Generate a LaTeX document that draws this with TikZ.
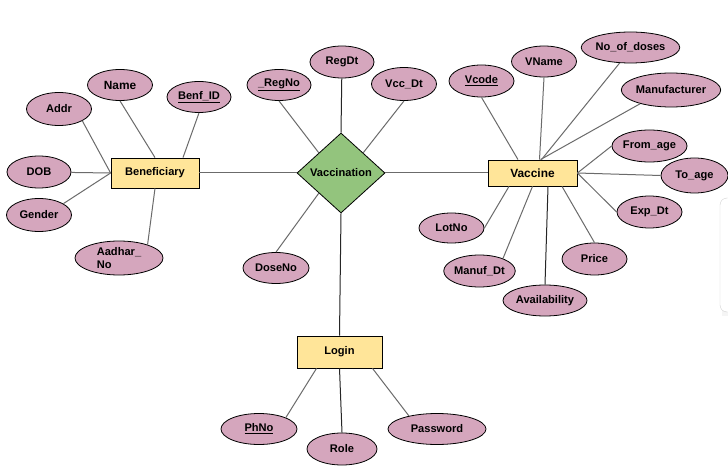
\documentclass[tikz,border=0pt]{standalone}
\usepackage{fontspec}
\setmainfont{Liberation Sans}
\usetikzlibrary{shapes.geometric}
\definecolor{attrpink}{HTML}{D5A6BD}
\definecolor{entyellow}{HTML}{FFE599}
\definecolor{relgreen}{HTML}{93C47D}
\definecolor{linkgray}{HTML}{6B6B6B}

\begin{document}
\begin{tikzpicture}[x=1pt, y=-1pt, font=\bfseries\fontsize{11.1}{12.8}\selectfont,
    attr/.style={draw, ellipse, fill=attrpink, line width=.8pt, inner sep=0pt, minimum width=65pt, minimum height=32pt},
    ent/.style={draw, fill=entyellow, line width=.8pt, inner sep=0pt, minimum width=88pt, minimum height=30pt},
    rel/.style={draw, diamond, fill=relgreen, line width=.8pt, inner sep=0pt, minimum width=88pt, minimum height=80pt},
    big/.style={font=\bfseries\fontsize{11.9}{13.5}\selectfont},
    link/.style={linkgray, line width=1pt},
    darklink/.style={black!85, line width=1pt}]
    \useasboundingbox (0,0) rectangle (728,473);
    \fill[white] (0,0) rectangle (728,473);
    \fill[black!4] (722,201) rectangle (745,316);
    \draw[black!18, fill=white, rounded corners=7pt] (720,198) rectangle (745,312);

    \node[ent] (benef) at (155,173) {Beneficiary};
    \node[rel] (vacc) at (341,173) {Vaccination};
    \node[ent, big, minimum width=89pt, minimum height=26pt] (vaccine) at (532.5,173) {Vaccine};
    \node[ent, minimum width=85pt, minimum height=32pt] (login) at (339.5,352) {Login};

    \node[attr, minimum height=33pt] (addr) at (59,109) {Addr};
    \node[attr, big, minimum height=31pt] (name) at (120,85) {Name};
    \node[attr, minimum width=64pt, minimum height=31pt] (benfid) at (199,97) {\underline{Benf\_ID}};
    \node[attr, minimum width=64pt] (dob) at (39,172) {DOB};
    \node[attr, minimum height=33pt] (gender) at (39,215) {Gender};
    \node[attr, minimum width=88pt, minimum height=34pt, align=left] (aadhar) at (119,258) {Aadhar\_\\No};

    \node[attr, minimum width=64pt, minimum height=31pt] (regno) at (279,85) {\underline{\_RegNo}};
    \node[attr, minimum width=64pt] (regdt) at (342,62) {RegDt};
    \node[attr, minimum height=33pt] (vccdt) at (404,84) {Vcc\_Dt};
    \node[attr, minimum width=66pt, minimum height=31pt] (doseno) at (276,268) {DoseNo};

    \node[attr] (vcode) at (481.5,81) {\underline{Vcode}};
    \node[attr, minimum height=31pt] (vname) at (544,61.5) {VName};
    \node[attr, minimum width=89pt, minimum height=31pt] (doses) at (630.5,47.5) {No\_of\_doses};
    \node[attr, minimum width=98pt, minimum height=34pt] (manuf) at (671,90) {Manufacturer};
    \node[attr] (fromage) at (649.5,146) {From\_age};
    \node[attr, minimum width=67pt, minimum height=35pt] (toage) at (694.5,175.5) {To\_age};
    \node[attr] (expdt) at (649.5,212) {Exp\_Dt};
    \node[attr] (price) at (594.5,259) {Price};
    \node[attr, minimum width=84pt, minimum height=31pt] (avail) at (545,300.5) {Availability};
    \node[attr] (manufdt) at (479.5,271) {Manuf\_Dt};
    \node[attr, minimum height=30pt] (lotno) at (451.5,228) {LotNo};

    \node[attr, minimum width=76pt, minimum height=31pt] (phno) at (259,429) {\underline{PhNo}};
    \node[attr, minimum width=70pt] (role) at (342,449) {Role};
    \node[attr, minimum width=98pt, minimum height=31pt] (password) at (437,429) {Password};

    \draw[link] (addr.-27) -- (benef.west);
    \draw[link] (name.south) -- (benef.north);
    \draw[link] (benfid.south) -- ([xshift=28pt]benef.north);
    \draw[link] (dob) -- (benef.west);
    \draw[link] (gender.25) -- (benef.west);
    \draw[link] (aadhar.25) -- (benef.south);
    \draw[link] (benef) -- (vacc);

    \draw[link] (regno.south) -- (vacc.north west);
    \draw[darklink] (regdt) -- (vacc.north);
    \draw[link] (vccdt.south) -- (vacc.north east);
    \draw[link] (doseno.north) -- (vacc.south west);
    \draw[darklink] (vacc.south) -- (login.north);
    \draw[link] (vacc) -- (vaccine);

    \draw[link] (vcode.south) -- ([xshift=-14.5pt]vaccine.north);
    \draw[link] (vname.south) -- ([xshift=7pt]vaccine.north);
    \draw[link] (doses.-125) -- ([xshift=9pt]vaccine.north);
    \draw[link] (manuf.-156) -- ([xshift=8pt]vaccine.north);
    \draw[link] (fromage.west) -- (vaccine.east);
    \draw[link] (toage.west) -- (vaccine.east);
    \draw[link] (expdt.west) -- (vaccine.east);
    \draw[link] (price.north) -- ([xshift=29.5pt]vaccine.south);
    \draw[darklink] (avail.north) -- ([xshift=15.5pt]vaccine.south);
    \draw[link] (manufdt.28) -- (vaccine.south);
    \draw[link] (lotno.east) -- ([xshift=-23.5pt]vaccine.south);

    \draw[link] (phno.23) -- ([xshift=-23pt]login.south);
    \draw[darklink] (role.north) -- (login.south);
    \draw[link] (password.155) -- ([xshift=33pt]login.south);
\end{tikzpicture}
\end{document}
